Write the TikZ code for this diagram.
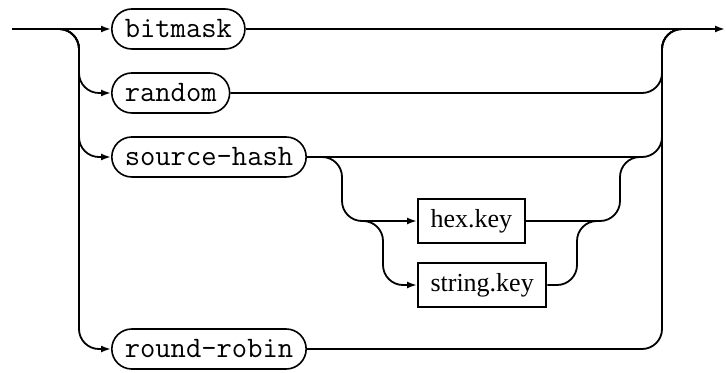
\documentclass[tikz,border=0pt]{standalone}
\usepackage{fontspec}
\setmainfont{Liberation Serif}
\usetikzlibrary{arrows.meta}

\begin{document}
\begin{tikzpicture}[x=0.5pt, y=-0.5pt,
 terminal/.style={draw, rounded corners=10pt, minimum height=20pt,
          inner xsep=6.5pt, inner ysep=0pt, anchor=west,
          font=\ttfamily\fontsize{14.86}{16}\selectfont, line width=0.8pt},
 nonterminal/.style={draw, minimum height=22pt, inner xsep=6.3pt,
          inner ysep=0pt, anchor=west,
          font=\fontsize{13}{15}\selectfont, line width=0.9pt},
 rail/.style={line width=0.9pt, rounded corners=10pt},
 arrow/.style={rail, -{Latex[length=5pt,width=3.5pt]}}
]
\useasboundingbox (0,0) rectangle (726,373);
% Alternatives of the main choice
\node[terminal] (bitmask) at (111, 29) {bitmask};
\node[terminal] (random) at (111, 93) {random};
\node[terminal] (sourcehash) at (111, 157) {source-hash};
\node[terminal] (roundrobin) at (111, 349) {round-robin};
% Optional key after source-hash
\node[nonterminal] (hexkey) at (417, 221) {hex.key};
\node[nonterminal] (stringkey) at (417, 285) {string.key};
% Junction points
\coordinate (start) at (12, 29);
\coordinate (split) at (59, 29);
\coordinate (rv) at (662, 29);
\coordinate (join) at (682, 29);
\coordinate (fin) at (725, 29);
\coordinate (isplit) at (322, 157);
\coordinate (iv) at (620, 157);
\coordinate (ijoin) at (640, 157);
\coordinate (ssplit) at (363, 221);
\coordinate (sv) at (577, 221);
\coordinate (sjoin) at (597, 221);
% Main line
\draw[arrow] (start) -- (bitmask.west);
\draw[arrow] (bitmask.east) -- (fin);
\foreach \alt in {random, sourcehash, roundrobin} {
  \draw[arrow] (split) -- ++(20,0) |- (\alt.west);
  \draw[rail] (\alt.east) -| (rv) -- (join);
}
% Inner choice
\draw[arrow] (isplit) -- ++(20,0) |- (hexkey.west);
\draw[arrow] (ssplit) -- ++(20,0) |- (stringkey.west);
\draw[rail] (hexkey.east) -| (iv) -- (ijoin);
\draw[rail] (stringkey.east) -| (sv) -- (sjoin);
\end{tikzpicture}
\end{document}
